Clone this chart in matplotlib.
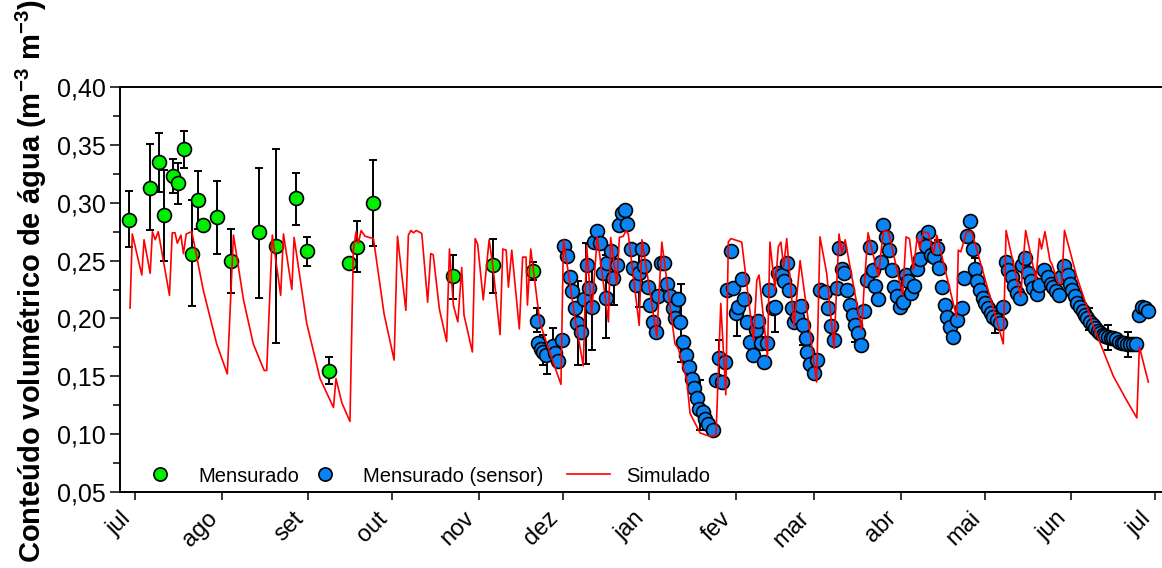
import matplotlib.pyplot as plt
import numpy as np
from matplotlib.lines import Line2D
from matplotlib.ticker import FuncFormatter, MultipleLocator

plt.rcParams['font.family'] = ['Liberation Sans', 'DejaVu Sans']
plt.rcParams['mathtext.default'] = 'regular'

# x axis: days since 1 jul
month_days = [0, 31, 62, 92, 123, 153, 184, 215, 243, 274, 304, 335, 365]
month_labels = ['jul', 'ago', 'set', 'out', 'nov', 'dez', 'jan', 'fev',
                'mar', 'abr', 'mai', 'jun', 'jul']

# Mensurado (manual readings, with error bars)
manual_day = [-2.1, 5.4, 8.6, 10.4, 13.6, 15.4, 17.5, 20.4, 22.5, 24.3, 29.3, 34.4,
              44.4, 50.5, 57.6, 61.5, 69.4, 76.6, 79.4, 85.2, 113.8, 128.1, 142.4]
manual_val = [0.285, 0.313, 0.335, 0.289, 0.323, 0.317, 0.346, 0.256, 0.302, 0.281, 0.288, 0.250,
              0.275, 0.263, 0.304, 0.258, 0.155, 0.248, 0.262, 0.300, 0.237, 0.246, 0.241]
manual_lo = [0.262, 0.276, 0.309, 0.250, 0.308, 0.299, 0.330, 0.211, 0.277, 0.281, 0.256, 0.222,
             0.218, 0.179, 0.281, 0.245, 0.143, 0.248, 0.240, 0.263, 0.217, 0.222, 0.233]
manual_hi = [0.310, 0.351, 0.360, 0.328, 0.338, 0.334, 0.362, 0.302, 0.327, 0.281, 0.319, 0.277,
             0.330, 0.346, 0.326, 0.270, 0.167, 0.248, 0.284, 0.337, 0.255, 0.269, 0.249]

# Mensurado (sensor)
sensor_day = [
    143.7, 144.3, 145.2, 146.1, 147.1, 149.5, 150.3, 151.5, 152.7, 153.5, 154.5, 155.7,
    156.5, 157.5, 158.3, 159.5, 160.7, 161.6, 162.6, 163.4, 164.3, 165.4, 166.4, 167.4,
    168.5, 169.0, 170.2, 171.2, 172.4, 173.2, 174.2, 175.3, 176.2, 177.4, 178.3, 179.3,
    180.4, 181.3, 182.3, 183.5, 184.3, 185.3, 186.4, 187.3, 188.1, 189.3, 190.3, 191.4,
    192.4, 193.2, 194.4, 195.0, 196.2, 197.2, 198.4, 199.2, 200.1, 201.0, 201.8, 203.1,
    204.0, 205.2, 206.7, 207.9, 209.1, 210.2, 211.1, 212.0, 213.2, 214.1, 215.1, 215.9,
    217.1, 218.0, 219.1, 220.1, 221.0, 222.2, 223.0, 224.0, 225.1, 226.0, 227.0, 228.2,
    229.0, 230.2, 231.4, 232.2, 233.2, 234.0, 235.0, 235.8, 237.0, 238.2, 239.1, 240.0,
    240.6, 241.5, 243.0, 243.9, 245.1, 246.9, 247.9, 249.0, 250.1, 251.1, 252.0, 252.9,
    253.7, 254.9, 255.9, 256.8, 257.6, 258.8, 259.7, 261.0, 261.8, 263.1, 264.2, 264.8,
    266.0, 266.8, 267.8, 268.7, 269.9, 271.0, 271.7, 272.6, 273.7, 274.7, 275.9, 276.7,
    277.7, 278.8, 279.9, 280.9, 282.1, 282.9, 283.9, 284.8, 285.9, 287.1, 287.8, 288.7,
    289.9, 290.7, 291.6, 292.8, 294.0, 295.8, 296.8, 297.8, 298.8, 299.8, 300.6, 301.4,
    302.4, 303.3, 304.2, 305.1, 306.2, 307.1, 308.4, 309.5, 310.7, 311.7, 312.5, 313.7,
    314.5, 315.5, 316.7, 317.3, 318.5, 319.7, 320.5, 321.5, 322.7, 323.6, 325.4, 326.6,
    327.7, 328.6, 329.6, 330.6, 331.4, 332.5, 333.8, 334.6, 335.4, 336.4, 337.2, 338.2,
    339.1, 340.0, 340.8, 341.7, 342.7, 343.5, 344.5, 345.3, 346.3, 347.2, 348.3, 349.3,
    350.1, 351.0, 352.1, 353.1, 354.0, 355.0, 356.1, 357.0, 358.2, 359.4, 360.5, 361.4,
    362.4]
sensor_val = [
    0.198, 0.179, 0.174, 0.171, 0.168, 0.176, 0.170, 0.163, 0.181, 0.263, 0.254, 0.236,
    0.224, 0.209, 0.196, 0.188, 0.2165, 0.246, 0.226, 0.210, 0.266, 0.2755, 0.265, 0.239,
    0.218, 0.2475, 0.258, 0.235, 0.246, 0.281, 0.291, 0.294, 0.2815, 0.260, 0.244, 0.229,
    0.239, 0.260, 0.245, 0.227, 0.2115, 0.197, 0.1885, 0.219, 0.248, 0.248, 0.230, 0.219,
    0.209, 0.200, 0.217, 0.197, 0.180, 0.168, 0.158, 0.148, 0.140, 0.131, 0.122, 0.119,
    0.1135, 0.109, 0.104, 0.147, 0.1655, 0.145, 0.162, 0.2245, 0.258, 0.226, 0.205, 0.210,
    0.234, 0.2165, 0.197, 0.180, 0.168, 0.190, 0.198, 0.1785, 0.1625, 0.1785, 0.225, 0.209,
    0.210, 0.239, 0.2375, 0.232, 0.2475, 0.225, 0.209, 0.197, 0.2015, 0.211, 0.194, 0.183,
    0.171, 0.161, 0.1525, 0.164, 0.2245, 0.223, 0.209, 0.1935, 0.181, 0.226, 0.2605, 0.243,
    0.239, 0.2245, 0.2115, 0.203, 0.194, 0.187, 0.177, 0.206, 0.233, 0.262, 0.242, 0.228,
    0.217, 0.249, 0.281, 0.2705, 0.259, 0.242, 0.227, 0.219, 0.210, 0.214, 0.2375, 0.232,
    0.222, 0.228, 0.243, 0.251, 0.2705, 0.263, 0.275, 0.2545, 0.253, 0.2605, 0.244, 0.227,
    0.2115, 0.2015, 0.193, 0.184, 0.199, 0.209, 0.235, 0.271, 0.284, 0.260, 0.2425, 0.232,
    0.2245, 0.218, 0.213, 0.209, 0.2045, 0.2015, 0.1985, 0.196, 0.210, 0.249, 0.242, 0.2355,
    0.228, 0.222, 0.218, 0.246, 0.2525, 0.2395, 0.232, 0.226, 0.2215, 0.229, 0.242, 0.2355,
    0.230, 0.227, 0.224, 0.220, 0.236, 0.245, 0.2375, 0.230, 0.2245, 0.219, 0.2135, 0.2095,
    0.206, 0.203, 0.200, 0.197, 0.194, 0.1915, 0.1895, 0.1875, 0.186, 0.185, 0.184, 0.1835,
    0.183, 0.182, 0.180, 0.179, 0.1785, 0.178, 0.1775, 0.1775, 0.178, 0.203, 0.210, 0.209,
    0.2065]

# sensor error bars (range)
sensor_err_day = [143.7, 146.1, 147.5, 149.5, 158.6, 161.4, 163.4, 168.5, 171.4, 180.4, 195.4, 202.2,
                  209.0, 215.3, 229.0, 239.1, 257.7, 287.3, 300.6, 307.7, 341.4, 348.2, 355.3]
sensor_err_lo = [0.188, 0.160, 0.152, 0.165, 0.160, 0.161, 0.173, 0.183, 0.212, 0.210, 0.162, 0.104,
                 0.144, 0.185, 0.1885, 0.177, 0.180, 0.245, 0.240, 0.187, 0.190, 0.173, 0.167]
sensor_err_hi = [0.209, 0.186, 0.168, 0.192, 0.232, 0.265, 0.246, 0.255, 0.245, 0.259, 0.230, 0.147,
                 0.181, 0.204, 0.204, 0.195, 0.200, 0.268, 0.252, 0.209, 0.209, 0.194, 0.188]

# Simulado (line vertices)
sim_day = [
    -1.8, -1.0, 2.4, 3.2, 5.4, 6.2, 7.2, 8.3, 12.3, 13.3, 14.3, 15.1, 16.4, 17.3, 18.3, 20.3,
    21.1, 24.4, 29.2, 33.0, 35.2, 38.8, 42.3, 46.2, 47.1, 49.1, 52.1, 53.1, 56.1, 56.9, 61.4,
    66.2, 71.0, 71.9, 74.0, 76.9, 78.1, 79.1, 79.9, 80.9, 82.3, 85.3, 89.1, 92.7, 93.9, 96.9,
    97.8, 98.7, 99.6, 100.6, 102.6, 104.7, 105.8, 106.7, 108.9, 111.5, 112.5, 113.9, 115.5,
    116.9, 117.7, 120.7, 121.7, 122.6, 124.6, 126.7, 128.0, 130.6, 131.6, 132.8, 133.6, 134.8,
    137.5, 138.7, 139.9, 140.4, 141.6, 144.9, 148.5, 152.4, 153.3, 157.5, 160.4, 161.6, 163.4,
    165.4, 169.4, 170.2, 172.4, 173.3, 174.7, 175.7, 176.5, 180.4, 181.4, 186.7, 188.5, 193.2,
    194.4, 197.4, 198.6, 202.2, 205.8, 207.9, 209.6, 211.4, 212.3, 213.2, 217.1, 221.3, 222.5,
    223.3, 226.3, 227.2, 229.0, 230.2, 231.1, 232.1, 233.2, 235.8, 238.0, 243.9, 245.1, 247.5,
    250.1, 251.9, 253.0, 254.1, 260.0, 260.9, 262.3, 266.0, 267.8, 269.6, 274.7, 275.9, 277.1,
    278.5, 279.9, 280.9, 282.1, 283.9, 285.7, 286.9, 294.0, 294.6, 295.5, 297.6, 299.4, 310.7,
    311.7, 316.9, 318.7, 322.4, 323.6, 324.4, 325.6, 327.4, 328.1, 330.4, 331.6, 332.6, 337.0,
    343.0, 350.1, 354.9, 358.5, 359.4, 362.6]
sim_val = [
    0.209, 0.273, 0.2375, 0.268, 0.239, 0.275, 0.268, 0.275, 0.220, 0.274, 0.274, 0.265, 0.272,
    0.256, 0.273, 0.275, 0.265, 0.2245, 0.178, 0.152, 0.272, 0.216, 0.178, 0.155, 0.155, 0.272,
    0.220, 0.273, 0.225, 0.270, 0.196, 0.148, 0.123, 0.148, 0.127, 0.111, 0.259, 0.275, 0.265,
    0.276, 0.271, 0.269, 0.204, 0.164, 0.271, 0.207, 0.272, 0.276, 0.274, 0.276, 0.2735, 0.214,
    0.256, 0.255, 0.208, 0.180, 0.260, 0.2115, 0.197, 0.244, 0.203, 0.171, 0.269, 0.264, 0.216,
    0.268, 0.246, 0.186, 0.260, 0.259, 0.227, 0.259, 0.191, 0.253, 0.253, 0.2115, 0.260, 0.196,
    0.170, 0.143, 0.268, 0.199, 0.159, 0.263, 0.204, 0.271, 0.197, 0.270, 0.229, 0.270, 0.271,
    0.276, 0.273, 0.194, 0.268, 0.184, 0.266, 0.178, 0.174, 0.147, 0.118, 0.101, 0.098, 0.099,
    0.213, 0.134, 0.266, 0.269, 0.266, 0.181, 0.233, 0.2375, 0.167, 0.266, 0.2245, 0.262, 0.266,
    0.245, 0.269, 0.193, 0.250, 0.145, 0.2705, 0.239, 0.174, 0.273, 0.256, 0.268, 0.190, 0.227,
    0.274, 0.236, 0.276, 0.275, 0.220, 0.2705, 0.269, 0.242, 0.2705, 0.260, 0.275, 0.2735,
    0.256, 0.272, 0.201, 0.259, 0.2575, 0.275, 0.275, 0.178, 0.276, 0.219, 0.276, 0.233, 0.269,
    0.260, 0.275, 0.250, 0.247, 0.230, 0.230, 0.276, 0.236, 0.193, 0.150, 0.129, 0.114, 0.1755,
    0.145]

legend_labels = ['Mensurado', 'Mensurado (sensor)', 'Simulado']

GREEN = '#00EE00'
BLUE = '#0A84F5'

fig = plt.figure(figsize=(11.62, 5.68), dpi=100)
ax = fig.add_axes([120 / 1162, 76 / 568, 1042 / 1162, 405 / 568])

mv = np.array(manual_val)
ax.errorbar(manual_day, mv, yerr=[mv - np.array(manual_lo), np.array(manual_hi) - mv],
            fmt='none', ecolor='black', elinewidth=1.4, capsize=2.8, capthick=1.4, zorder=2)
lo = np.array(sensor_err_lo)
hi = np.array(sensor_err_hi)
ax.errorbar(sensor_err_day, (lo + hi) / 2, yerr=(hi - lo) / 2,
            fmt='none', ecolor='black', elinewidth=1.4, capsize=2.8, capthick=1.4, zorder=2)

ax.plot(manual_day, manual_val, 'o', ms=10, mfc=GREEN, mec='black', mew=1.2, zorder=3)
ax.plot(sensor_day, sensor_val, 'o', ms=10, mfc=BLUE, mec='black', mew=1.2, zorder=3)
ax.plot(sim_day, sim_val, '-', color='red', lw=1.2, zorder=4)

ax.set_xlim(-5.4, 367.5)
ax.set_ylim(0.05, 0.40)
ax.set_xticks(month_days)
ax.set_xticklabels(month_labels, rotation=45, ha='right', va='top', fontsize=17)
ax.yaxis.set_major_locator(MultipleLocator(0.05))
ax.yaxis.set_minor_locator(MultipleLocator(0.025))
ax.yaxis.set_major_formatter(FuncFormatter(lambda v, p: f'{v:.2f}'.replace('.', ',')))
ax.tick_params(axis='y', which='major', direction='out', length=7, width=1.1, labelsize=18)
ax.tick_params(axis='y', which='minor', direction='out', length=5, width=1.1)
ax.tick_params(axis='x', direction='out', length=6, width=1.1, pad=5)

ax.spines['right'].set_visible(False)
for s in ['left', 'bottom', 'top']:
    ax.spines[s].set_linewidth(1.4)

fig.text(31 / 1162, 1 - 281 / 568, 'Conteúdo volumétrico de água (m$^{-3}$ m$^{-3}$)',
         rotation=90, ha='center', va='center', fontsize=21, fontweight='bold')

# one legend per entry so each sits where the reference puts it
handles = [
    Line2D([], [], ls='none', marker='o', ms=9.5, mfc=GREEN, mec='black', mew=1.2),
    Line2D([], [], ls='none', marker='o', ms=9.5, mfc=BLUE, mec='black', mew=1.2),
    Line2D([], [], color='red', lw=1.2),
]
legend_x = [0.0178, 0.1761, 0.429]
for i, (h, lab, x0) in enumerate(zip(handles, legend_labels, legend_x)):
    leg = ax.legend([h], [lab], loc='center left', bbox_to_anchor=(x0, 0.0395),
                    frameon=False, fontsize=14.5, handlelength=2.15, handletextpad=0.8,
                    borderpad=0, borderaxespad=0)
    if i < len(handles) - 1:
        ax.add_artist(leg)

fig.savefig('out.png', dpi=100)
